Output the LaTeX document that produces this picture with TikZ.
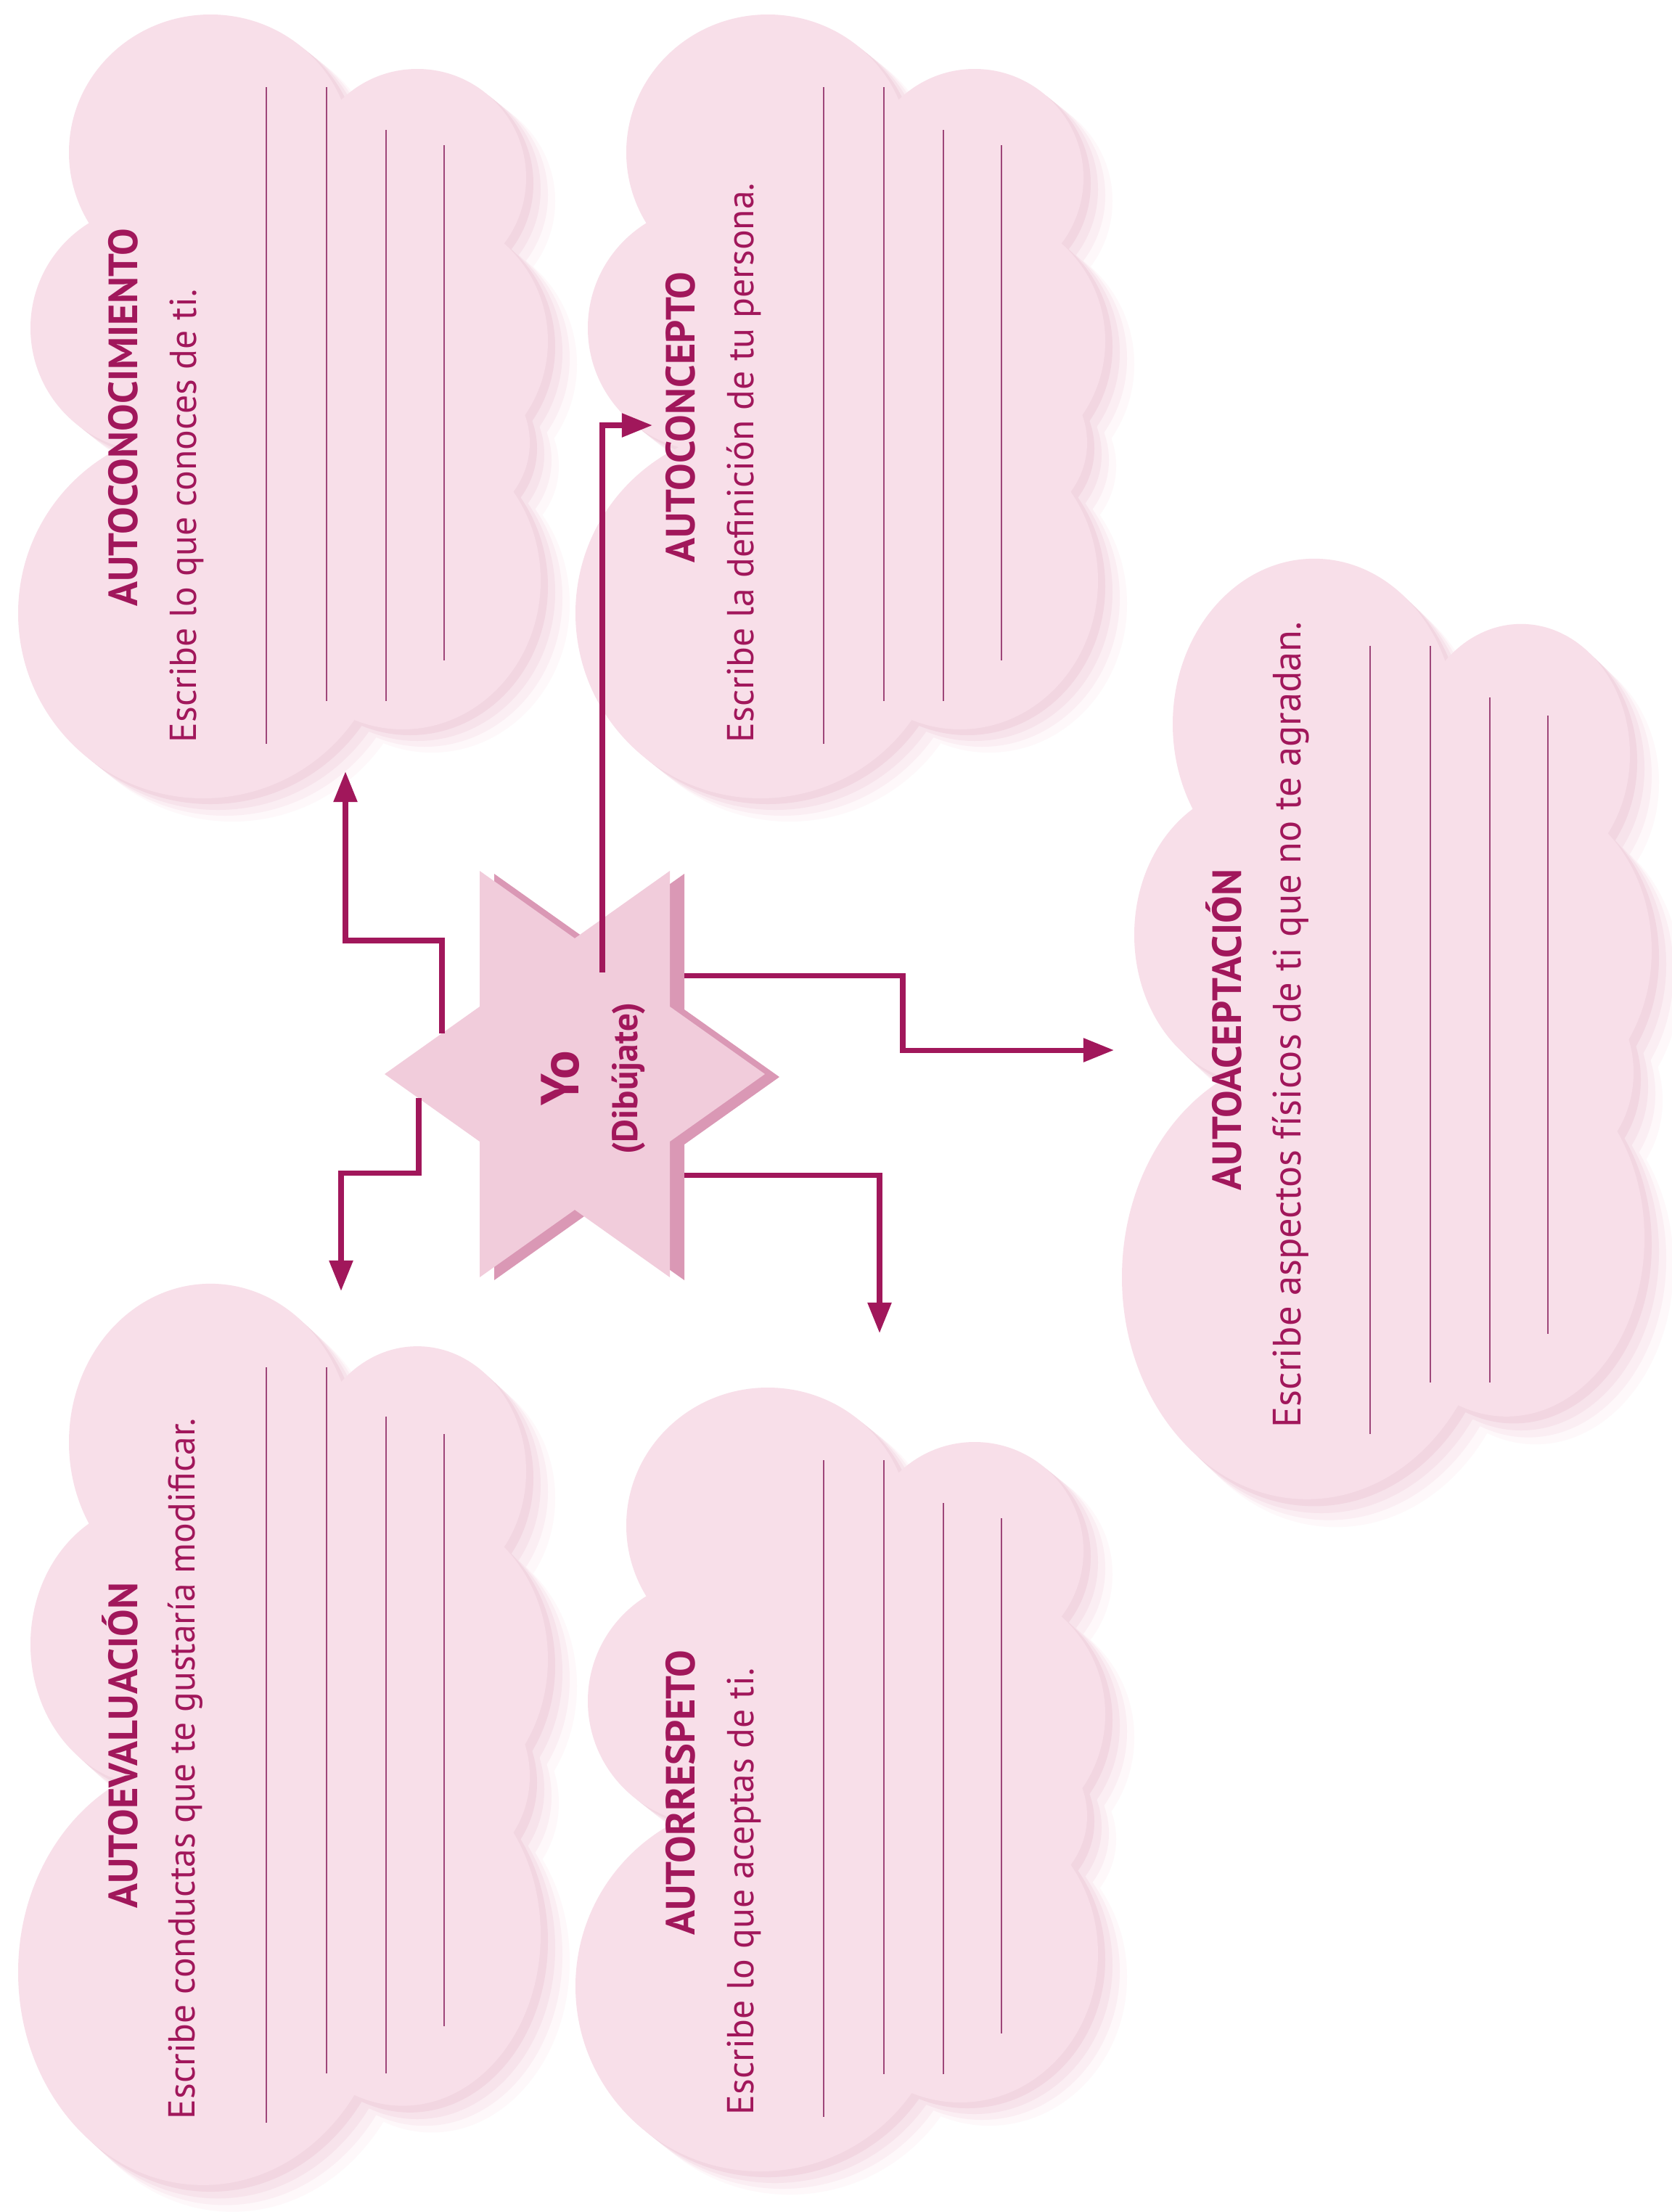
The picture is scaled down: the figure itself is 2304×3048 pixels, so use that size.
\documentclass[tikz,border=0pt]{standalone}
\usepackage{fontspec}
\setmainfont{PT Sans}
\usetikzlibrary{arrows.meta}
\definecolor{mag}{HTML}{A1175B}
\definecolor{cloudfill}{HTML}{F8DFE9}
\definecolor{shA}{HTML}{FEF8FA}
\definecolor{shB}{HTML}{FBEEF3}
\definecolor{shC}{HTML}{F7E3EB}
\definecolor{shD}{HTML}{F2D6E1}
\definecolor{rulecol}{HTML}{9E4679}
\definecolor{starface}{HTML}{F1CCDB}
\definecolor{starside}{HTML}{DA98B5}
\newcommand\cloudwith[1]{%
  \fill[#1] (290,210) ellipse [x radius=195, y radius=190];
  \fill[#1] (575,245) ellipse [x radius=150, y radius=150];
  \fill[#1] (212,452) ellipse [x radius=170, y radius=170];
  \fill[#1] (280,845) ellipse [x radius=255, y radius=255];
  \fill[#1] (575,470) ellipse [x radius=180, y radius=180];
  \fill[#1] (600,610) ellipse [x radius=130, y radius=120];
  \fill[#1] (555,800) ellipse [x radius=190, y radius=205];
  \fill[#1] (420,600) ellipse [x radius=230, y radius=380];
}
\newcommand\fullcloud{%
  \begin{scope}[shift={(40,32)}]\cloudwith{shA}\end{scope}
  \begin{scope}[shift={(30,24)}]\cloudwith{shB}\end{scope}
  \begin{scope}[shift={(20,16)}]\cloudwith{shC}\end{scope}
  \begin{scope}[shift={(10,8)}]\cloudwith{shD}\end{scope}
  \cloudwith{cloudfill}
  \draw[rulecol, line width=0.75pt] (367,120) -- (367,1025);
  \draw[rulecol, line width=0.75pt] (450,120) -- (450,966);
  \draw[rulecol, line width=0.75pt] (532,179) -- (532,966);
  \draw[rulecol, line width=0.75pt] (612,200) -- (612,910);
}
\newcommand\starpath[1]{%
  \fill[#1] (262,0)--(131,93)--(131,280)--(0,187)--(-131,280)--(-131,93)--(-262,0)
    --(-131,-93)--(-131,-280)--(0,-187)--(131,-280)--(131,-93)--cycle;
}
\tikzset{
  title/.style={rotate=90, anchor=base, inner sep=0pt, text=mag,
    font=\fontsize{16}{18}\selectfont\bfseries},
  subtitle/.style={rotate=90, anchor=base west, inner sep=0pt, text=mag,
    font=\fontsize{14.7}{17}\selectfont},
  arr/.style={draw=mag, line width=2pt, -{Triangle[length=12pt,width=9pt]}},
}
\begin{document}
\begin{tikzpicture}[x=0.01cm, y=-0.01cm]
\useasboundingbox (0,0) rectangle (2304,3048);
\fill[white] (0,0) rectangle (2304,3048);

% clouds
\begin{scope}\fullcloud\end{scope}
\begin{scope}[shift={(768,0)}]\fullcloud\end{scope}
\begin{scope}[shift={(0,1770)}, yscale=1.15, shift={(0,-21)}]\fullcloud\end{scope}
\begin{scope}[shift={(768,1892)}]\fullcloud\end{scope}
\begin{scope}[shift={(1521,771)}, yscale=1.2, shift={(0,-21)}]\fullcloud\end{scope}

% cloud texts
\node[title] (t1) at (189,575) {AUTOCONOCIMIENTO};
\node[subtitle] (s1) at (270,1024) {Escribe lo que conoces de ti.};
\node[title] (t2) at (957,575) {AUTOCONCEPTO};
\node[subtitle] (s2) at (1038,1024) {Escribe la definición de tu persona.};
\node[title] (t3) at (189,2405) {AUTOEVALUACIÓN};
\node[subtitle] (s3) at (268,2921) {Escribe conductas que te gustaría modificar.};
\node[title] (t4) at (957,2470) {AUTORRESPETO};
\node[subtitle] (s4) at (1038,2915) {Escribe lo que aceptas de ti.};
\node[title] (t5) at (1710,1419) {AUTOACEPTACIÓN};
\node[subtitle, font=\fontsize{15.5}{18}\selectfont] (s5) at (1792,1968) {Escribe aspectos físicos de ti que no te agradan.};

% star
\begin{scope}[shift={(812,1484)}]\starpath{starside}\end{scope}
\begin{scope}[shift={(792,1480)}]\starpath{starface}\end{scope}
\node[rotate=90, anchor=base, inner sep=0pt, text=mag,
  font=\fontsize{21}{24}\selectfont\bfseries] (yo) at (797,1486) {Yo};
\node[rotate=90, anchor=base, inner sep=0pt, text=mag,
  font=\fontsize{14}{16}\selectfont\bfseries] (dib) at (878,1486) {(Dibújate)};

% connector coordinates
\coordinate (sA) at (609,1424);
\coordinate (tA) at (476,1063);
\coordinate (sB) at (577,1513);
\coordinate (tB) at (470,1779);
\coordinate (sC) at (830,1340);
\coordinate (tC) at (899,586);
\coordinate (sD) at (943,1344);
\coordinate (tD) at (1535,1447);
\coordinate (sE) at (943,1619);
\coordinate (tE) at (1212,1837);

\draw[arr] (sA) -- ++(0,-128) -| (tA);
\draw[arr] (sB) -- ++(0,103) -| (tB);
\draw[arr] (sC) |- (tC);
\draw[arr] (sD) -- (1244,1344) |- (tD);
\draw[arr] (sE) -| (tE);
\end{tikzpicture}
\end{document}
